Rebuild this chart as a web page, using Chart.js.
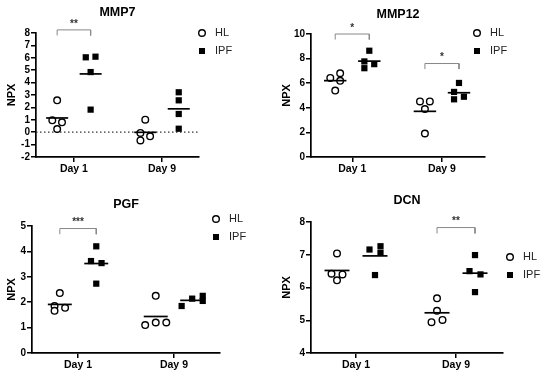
<!DOCTYPE html>
<html lang="en">
<head>
<meta charset="UTF-8" />
<title>NPX panels</title>
<script src="https://cdn.jsdelivr.net/npm/chart.js@4.4.1/dist/chart.umd.min.js"></script>
<style>
  body { margin: 0; background: #fff; }
  #wrap { position: relative; width: 550px; height: 381px; }
  canvas { position: absolute; }
</style>
</head>
<body>
<div id="wrap">
  <canvas id="c1" width="275" height="190" style="left:0;top:0"></canvas>
  <canvas id="c2" width="275" height="190" style="left:275px;top:0"></canvas>
  <canvas id="c3" width="275" height="191" style="left:0;top:190px"></canvas>
  <canvas id="c4" width="275" height="191" style="left:275px;top:190px"></canvas>
</div>
<script>
const days = ['Day 1', 'Day 9'];
const groups = ['HL', 'IPF'];

// values per day: [Day 1], [Day 9]
const mmp7HL = [[2.57, 0.96, 0.80, 0.26], [1.01, -0.06, -0.33, -0.66]];
const mmp7IPF = [[6.04, 6.09, 4.85, 1.82], [3.22, 2.57, 1.47, 0.28]];
const mmp7Sig = [{ day: 0, y: 8.25, label: '**' }];

const mmp12HL = [[6.43, 6.81, 6.19, 5.40], [4.52, 4.52, 3.90, 1.91]];
const mmp12IPF = [[8.64, 7.77, 7.55, 7.22], [6.02, 5.29, 4.69, 4.90]];
const mmp12Sig = [{ day: 0, y: 10.0, label: '*' }, { day: 1, y: 7.6, label: '*' }];

const pgfHL = [[2.36, 1.85, 1.78, 1.66], [2.25, 1.10, 1.20, 1.20]];
const pgfIPF = [[4.20, 3.62, 3.54, 2.73], [1.85, 2.14, 2.25, 2.05]];
const pgfSig = [{ day: 0, y: 4.9, label: '***' }];

const dcnHL = [[7.04, 6.42, 6.40, 6.22], [5.67, 5.29, 4.94, 5.01]];
const dcnIPF = [[7.16, 7.26, 7.06, 6.38], [6.99, 6.50, 6.40, 5.86]];
const dcnSig = [{ day: 1, y: 7.83, label: '**' }];

// horizontal spreading of the dots (in dot steps), same order as values
const spread = {
  MMP7:  { HL: [[0, -1, 1, 0], [0, -1, 1, -1]], IPF: [[-1, 1, 0, 0], [0, 0, 0, 0]] },
  MMP12: { HL: [[-1, 1, 1, 0], [-1, 1, 0, 0]], IPF: [[0, -1, 1, -1], [0, -1, -1, 1]] },
  PGF:   { HL: [[0, -1, 1, -1], [0, -2, 0, 2]], IPF: [[0, -1, 1, 0], [-2, 0, 2, 2]] },
  DCN:   { HL: [[0, -1, 1, 0], [0, 0, -1, 1]], IPF: [[-1, 1, 1, 0], [0, -1, 1, 0]] }
};

const panels = [
  { id: 'c1', title: 'MMP7', hl: mmp7HL, ipf: mmp7IPF, sig: mmp7Sig, y: [-2, 8, 1], x: [0.57, 2.42],
    area: [36, 33, 199, 157], titleY: 13, zero: true, legend: [202, 33] },
  { id: 'c2', title: 'MMP12', hl: mmp12HL, ipf: mmp12IPF, sig: mmp12Sig, y: [0, 10, 2], x: [0.54, 2.48],
    area: [36, 34, 210, 157], titleY: 15, zero: false, legend: [202, 33] },
  { id: 'c3', title: 'PGF', hl: pgfHL, ipf: pgfIPF, sig: pgfSig, y: [0, 5, 1], x: [0.52, 2.48],
    area: [32, 36, 220, 163], titleY: 15, zero: false, legend: [216, 29] },
  { id: 'c4', title: 'DCN', hl: dcnHL, ipf: dcnIPF, sig: dcnSig, y: [4, 8, 1], x: [0.55, 2.47],
    area: [36, 32, 228, 163], titleY: 11, zero: false, legend: [235, 67] }
];

Chart.defaults.font.family = '"Liberation Sans", Arial, sans-serif';
Chart.defaults.color = '#000';

const OFF = 0.19;   // group offset from day tick
const STEP = 0.055; // one dot step
const HALF = 0.125; // half width of mean line

function mean(a) { return a.reduce((s, v) => s + v, 0) / a.length; }

function points(vals, sp, side) {
  const out = [];
  vals.forEach((dayVals, d) => {
    dayVals.forEach((v, i) => {
      out.push({ x: d + 1 + side * OFF + sp[d][i] * STEP, y: v });
    });
  });
  return out;
}

const annot = {
  id: 'annot',
  afterDraw(chart, args, o) {
    const ctx = chart.ctx;
    const xs = chart.scales.x, ys = chart.scales.y;
    const a = chart.chartArea;
    ctx.save();
    // title
    ctx.fillStyle = '#000';
    ctx.font = 'bold 12.5px "Liberation Sans", Arial, sans-serif';
    ctx.textAlign = 'center';
    ctx.textBaseline = 'middle';
    ctx.fillText(o.title, (a.left + a.right) / 2, o.titleY);
    // axis title
    ctx.save();
    ctx.translate(12, (a.top + a.bottom) / 2);
    ctx.rotate(-Math.PI / 2);
    ctx.font = 'bold 11px "Liberation Sans", Arial, sans-serif';
    ctx.fillText('NPX', 0, 0);
    ctx.restore();
    // significance stars
    ctx.fillStyle = '#333';
    ctx.font = 'bold 10px "Liberation Sans", Arial, sans-serif';
    o.sig.forEach(s => {
      const cx = xs.getPixelForValue(s.day + 1);
      ctx.fillText(s.label, cx, ys.getPixelForValue(s.y) - 6);
    });
    // legend
    const [lx, ly] = o.legend;
    ctx.strokeStyle = '#000';
    ctx.lineWidth = 1.4;
    ctx.beginPath();
    ctx.arc(lx, ly, 3.3, 0, Math.PI * 2);
    ctx.stroke();
    ctx.fillStyle = '#000';
    ctx.fillRect(lx - 3, ly + 18 - 3, 6, 6);
    ctx.fillStyle = '#222';
    ctx.font = '11px "Liberation Sans", Arial, sans-serif';
    ctx.textAlign = 'left';
    ctx.fillText(groups[0], lx + 13, ly);
    ctx.fillText(groups[1], lx + 13, ly + 18);
    ctx.restore();
  }
};

panels.forEach(p => {
  const sp = spread[p.title];
  const [L, T, R, B] = p.area;
  const canvas = document.getElementById(p.id);
  const W = canvas.width, H = canvas.height;
  const xh = 24;
  const datasets = [];

  // mean lines
  [p.hl, p.ipf].forEach((vals, g) => {
    vals.forEach((dayVals, d) => {
      const c = d + 1 + (g === 0 ? -OFF : OFF);
      const m = mean(dayVals);
      datasets.push({
        type: 'line', data: [{ x: c - HALF, y: m }, { x: c + HALF, y: m }],
        borderColor: '#000', borderWidth: 1.7, pointRadius: 0
      });
    });
  });

  datasets.push({
    label: groups[1], data: points(p.ipf, sp.IPF, 1),
    pointStyle: 'rect', pointRadius: 4.4, backgroundColor: '#000', borderColor: '#000', borderWidth: 0
  });
  datasets.push({
    label: groups[0], data: points(p.hl, sp.HL, -1),
    pointStyle: 'circle', pointRadius: 3.3, backgroundColor: '#fff', borderColor: '#000', borderWidth: 1.4
  });

  // brackets
  p.sig.forEach(s => {
    const x1 = s.day + 1 - OFF, x2 = s.day + 1 + OFF;
    const drop = (p.y[1] - p.y[0]) * 0.045;
    datasets.push({
      type: 'line', clip: false,
      data: [{ x: x1, y: s.y - drop }, { x: x1, y: s.y }, { x: x2, y: s.y }, { x: x2, y: s.y - drop }],
      borderColor: '#888', borderWidth: 1, pointRadius: 0
    });
  });

  if (p.zero) {
    datasets.push({
      type: 'line', data: [{ x: p.x[0], y: 0 }, { x: p.x[1], y: 0 }],
      borderColor: '#333', borderWidth: 1.3, borderDash: [1.5, 2.5], pointRadius: 0
    });
  }

  new Chart(canvas, {
    type: 'scatter',
    data: { datasets },
    options: {
      responsive: false,
      animation: false,
      events: [],
      layout: { padding: { left: 0, top: T, right: W - R, bottom: H - B - xh } },
      plugins: { legend: { display: false }, tooltip: { enabled: false }, annot: p },
      scales: {
        x: {
          type: 'linear', min: p.x[0], max: p.x[1],
          afterBuildTicks: s => { s.ticks = [{ value: 1 }, { value: 2 }]; },
          afterFit: s => { s.height = xh; },
          ticks: { callback: v => days[v - 1], font: { size: 10.5, weight: 'bold' }, padding: 1, maxRotation: 0, autoSkip: false },
          grid: { display: true, drawOnChartArea: false, drawTicks: true, tickLength: 5, color: '#000', lineWidth: 1.5 },
          border: { display: true, color: '#000', width: 1.7 }
        },
        y: {
          min: p.y[0], max: p.y[1],
          afterFit: s => { s.width = L; },
          ticks: { stepSize: p.y[2], font: { size: 10, weight: 'bold' }, padding: 1, autoSkip: false },
          grid: { display: true, drawOnChartArea: false, drawTicks: true, tickLength: 5, color: '#000', lineWidth: 1.5 },
          border: { display: true, color: '#000', width: 1.7 }
        }
      }
    },
    plugins: [annot]
  });
});
</script>
</body>
</html>
